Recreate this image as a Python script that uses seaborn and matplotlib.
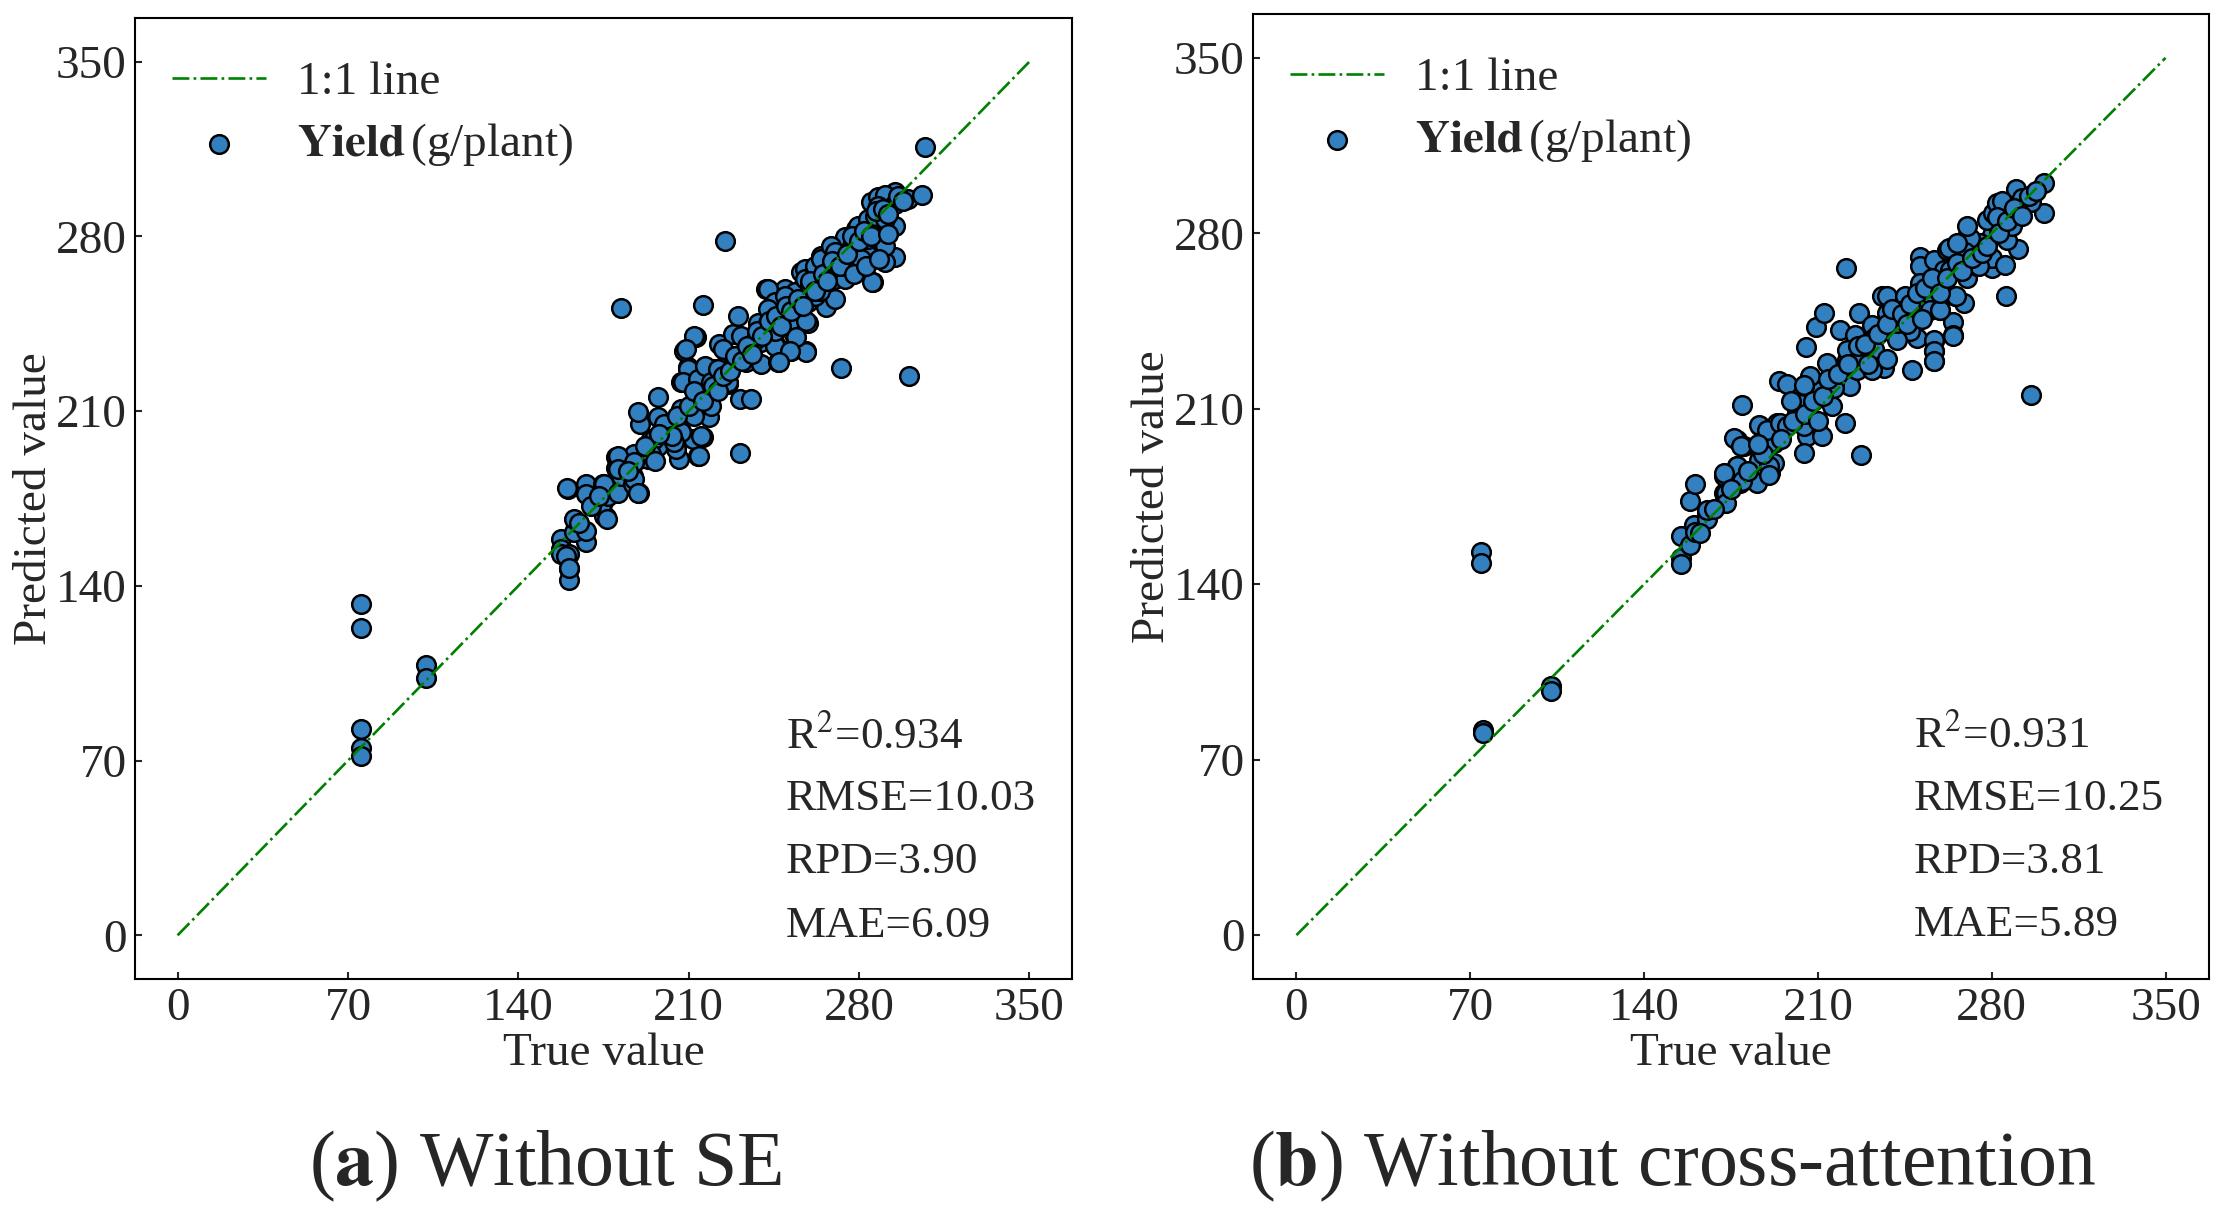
import matplotlib
matplotlib.use("Agg")
import matplotlib.pyplot as plt
import seaborn as sns

# (a) Without SE: true / predicted yield (g/plant)
true_a = [75.5, 75.5, 75.5, 75.5, 75.5, 102.2, 102.2,
          157.5, 157.5, 157.5, 160.7, 160.7, 167.8, 163.0, 160.7, 159.6, 161.0, 163.0, 167.8,
          160.5, 167.8, 167.8, 174.6, 174.6, 176.0, 175.3, 173.9, 176.7, 175.3, 160.2, 176.4,
          180.8, 180.1, 180.1, 182.2, 187.0, 189.7, 187.0, 189.7, 187.7, 193.2, 194.6, 197.3,
          190.0, 189.0, 197.3, 197.3, 180.8, 180.8, 187.7, 187.7, 189.0, 195.9, 194.6, 182.2,
          201.4, 206.9, 206.2, 213.7, 215.8, 211.7, 204.9, 206.9, 206.9, 213.1, 213.1, 209.6,
          208.2, 213.1, 218.5, 218.5, 219.9, 212.3, 208.9, 209.6, 207.5, 213.7, 213.7, 219.2,
          212.3, 206.9, 215.1, 204.1, 214.4, 216.5, 219.2, 215.8,
          222.6, 224.7, 226.1, 228.1, 230.9, 235.7, 230.9, 233.6, 239.8, 239.8, 225.0, 224.0,
          228.8, 226.1, 222.0, 231.6, 230.2, 237.8, 238.4,
          245.3, 246.7, 253.5, 258.3, 252.1, 245.3, 241.9, 245.3, 245.3, 252.1, 245.3, 249.4,
          249.4, 253.5, 253.5, 258.3, 256.3, 256.3, 259.0, 259.0, 242.6, 245.3, 250.8, 254.9,
          251.5, 258.3, 242.6, 242.6, 245.3, 254.2, 251.5, 247.3, 253.5, 249.4, 257.6, 257.6,
          261.7, 264.5, 270.0, 266.5, 270.0, 274.1, 274.1, 278.9, 279.6, 272.7, 261.7, 264.2,
          267.0, 274.1, 268.6, 270.0, 274.1, 279.6, 276.9, 279.6, 261.7, 270.0, 264.0, 260.0,
          283.7, 289.2, 289.2, 283.7, 285.0, 287.8, 294.7, 300.2, 305.9, 307.0, 294.7, 294.7,
          290.6, 285.8, 300.4, 290.6, 286.5, 290.6, 283.7, 290.6, 280.9, 285.2, 294.7, 287.8,
          200.0, 203.0, 205.0, 210.0, 212.0, 216.0, 220.0, 222.0, 224.0, 227.0, 229.0, 232.0,
          234.0, 236.0, 238.0, 240.0, 243.0, 246.0, 248.0, 250.0, 252.0, 255.0, 257.0, 260.0,
          262.0, 265.0, 267.0, 269.0, 272.0, 275.0, 277.0, 280.0, 282.0, 285.0, 287.0, 290.0,
          292.0, 296.0, 298.0, 278.0, 283.0, 288.0, 292.0, 185.0, 192.0, 198.0, 196.0, 170.0,
          173.0, 165.0]
pred_a = [132.9, 123.3, 82.6, 75.2, 71.9, 108.3, 102.9,
          158.7, 154.7, 152.7, 146.7, 142.3, 157.4, 161.4, 152.7, 152.0, 147.0, 166.7, 162.0,
          179.0, 180.8, 176.8, 180.8, 173.4, 167.4, 168.0, 172.0, 176.1, 180.8, 179.4, 166.7,
          177.4, 191.5, 187.4, 184.1, 184.1, 177.4, 180.8, 190.8, 192.8, 190.8, 198.8, 196.1,
          204.8, 209.5, 215.5, 207.5, 192.1, 186.8, 189.5, 182.8, 177.4, 198.8, 192.8, 251.3,
          201.5, 202.1, 190.8, 192.1, 199.5, 198.8, 194.8, 210.8, 221.5, 216.2, 222.8, 227.5,
          234.2, 239.6, 207.5, 212.8, 226.9, 240.2, 234.9, 226.9, 221.5, 222.8, 216.2, 212.2,
          208.1, 201.5, 200.1, 197.5, 192.1, 228.2, 221.5, 252.5,
          236.9, 228.2, 220.8, 240.9, 214.8, 214.8, 193.2, 229.5, 228.8, 237.5, 278.0, 234.9,
          229.5, 221.5, 226.9, 240.2, 248.2, 238.9, 245.5,
          236.9, 229.5, 240.2, 234.2, 234.2, 241.6, 258.9, 252.2, 244.2, 234.9, 236.2, 258.9,
          250.9, 253.6, 240.2, 233.5, 265.6, 258.9, 253.6, 245.5, 258.9, 253.6, 250.9, 249.6,
          246.2, 246.2, 250.9, 245.5, 242.2, 239.6, 234.2, 229.5, 257.6, 256.2, 266.9, 262.9,
          266.9, 272.3, 262.9, 251.6, 275.0, 270.9, 279.6, 282.9, 272.3, 227.3, 268.3, 270.9,
          264.2, 262.9, 276.3, 273.6, 268.3, 266.9, 276.3, 284.3, 256.2, 254.9, 258.0, 260.0,
          275.0, 277.6, 286.9, 286.9, 293.6, 295.6, 297.7, 295.0, 296.7, 316.0, 284.3, 271.6,
          269.6, 261.6, 223.9, 296.4, 288.3, 287.0, 279.0, 276.3, 270.9, 261.6, 293.0, 292.3,
          205.0, 200.0, 208.0, 212.0, 218.0, 214.0, 220.0, 218.0, 224.0, 226.0, 232.0, 230.0,
          236.0, 233.0, 242.0, 240.0, 246.0, 248.0, 244.0, 252.0, 250.0, 255.0, 252.0, 262.0,
          258.0, 265.0, 262.0, 270.0, 268.0, 273.0, 280.0, 278.0, 282.0, 280.0, 290.0, 291.0,
          289.0, 296.0, 294.0, 265.0, 268.0, 271.0, 281.0, 186.0, 196.0, 201.0, 190.0, 172.0,
          176.0, 165.0]

# (b) Without cross-attention
true_b = [74.2, 74.2, 75.0, 75.0, 102.5, 102.5,
          154.7, 154.7, 154.7, 158.4, 160.0, 160.5, 165.4, 165.4, 158.3, 160.7, 172.1, 172.1,
          172.1, 177.5, 178.8, 176.0, 184.8, 186.8, 190.9, 192.2, 185.5, 180.1, 177.5, 186.8,
          189.5, 193.6, 179.5, 194.2, 192.2, 172.8, 172.8, 165.4, 162.7, 176.4, 179.1, 190.4,
          186.2, 190.4, 190.2, 177.5, 172.1, 179.5, 186.2, 189.5, 194.9,
          205.4, 209.4, 212.6, 226.4, 219.0, 224.8, 221.3, 215.7, 223.1, 216.3, 215.7, 209.7,
          209.7, 204.3, 207.0, 213.7, 201.6, 202.9, 197.6, 205.6, 197.5, 221.0, 227.4, 204.3,
          204.3, 216.3, 211.7, 204.3, 203.0, 221.8, 221.8, 225.8, 227.1, 203.0,
          231.8, 235.8, 238.0, 245.2, 251.2, 251.2, 256.6, 247.9, 249.9, 247.2, 241.9, 241.9,
          237.8, 243.0, 236.5, 231.8, 232.4, 232.4, 256.6, 256.6, 256.6, 255.2, 251.2, 253.9,
          249.9, 255.2, 259.3, 259.9, 256.9, 256.9, 256.9,
          262.0, 264.6, 270.0, 274.0, 280.1, 280.1, 280.1, 278.0, 280.7, 282.1, 275.4, 270.0,
          260.6, 265.3, 268.7, 264.6, 264.6, 301.1, 301.1, 295.9, 289.9, 285.8, 295.9, 290.4,
          285.4, 274.7, 285.4, 284.0, 282.0, 287.4, 290.0, 286.1, 271.3, 269.3, 262.6, 263.3,
          259.9, 265.7, 259.3, 264.4, 288.0, 292.0,
          182.0, 188.0, 195.0, 200.0, 205.0, 208.0, 212.0, 214.0, 218.0, 222.0, 226.0, 229.0,
          234.0, 238.0, 240.0, 244.0, 247.0, 250.0, 253.0, 256.0, 259.0, 262.0, 266.0, 268.0,
          272.0, 276.0, 278.0, 283.0, 286.0, 289.0, 292.0, 295.0, 298.0, 270.0, 266.0, 246.0,
          252.0, 238.0, 230.0, 210.0, 199.0, 186.0, 168.0, 175.0]
pred_b = [152.8, 148.3, 82.0, 80.5, 99.5, 97.5,
          150.5, 147.9, 159.4, 155.8, 163.8, 161.0, 168.5, 166.0, 173.1, 179.8, 172.5, 176.5,
          183.1, 187.0, 180.4, 180.0, 183.7, 189.7, 184.4, 188.4, 180.4, 195.0, 197.7, 203.0,
          201.0, 204.3, 211.4, 220.9, 196.4, 176.4, 172.5, 169.8, 160.5, 198.4, 195.0, 196.4,
          189.7, 187.0, 183.7, 187.0, 184.4, 181.1, 203.7, 201.7, 204.3,
          234.5, 242.8, 248.4, 248.4, 241.5, 239.5, 266.1, 225.6, 218.9, 220.3, 211.0, 216.9,
          202.3, 218.9, 222.9, 228.3, 209.6, 204.3, 203.0, 199.0, 220.0, 204.3, 191.7, 192.4,
          219.6, 218.3, 199.0, 203.0, 209.6, 229.6, 233.6, 225.6, 230.9, 212.0,
          243.5, 254.8, 254.8, 254.8, 270.7, 267.0, 269.4, 225.6, 238.2, 240.9, 237.5, 244.2,
          248.2, 249.0, 226.3, 225.6, 238.2, 233.7, 236.9, 233.0, 228.9, 261.5, 260.1, 253.5,
          250.8, 249.5, 249.5, 259.5, 237.3, 233.0, 228.9,
          273.4, 266.8, 262.1, 266.8, 266.1, 270.0, 279.4, 285.4, 288.0, 292.0, 276.1, 278.7,
          265.4, 254.8, 252.2, 244.8, 239.5, 300.0, 288.0, 292.3, 297.6, 254.8, 215.6, 273.7,
          267.4, 266.8, 281.4, 292.7, 286.7, 285.4, 289.4, 277.4, 278.0, 272.7, 274.1, 265.4,
          259.5, 254.8, 249.5, 239.1, 283.0, 294.0,
          185.0, 192.0, 198.0, 205.0, 208.0, 213.0, 215.0, 222.0, 224.0, 228.0, 235.0, 236.0,
          240.0, 244.0, 250.0, 248.0, 252.0, 256.0, 258.0, 262.0, 256.0, 262.0, 268.0, 265.0,
          270.0, 272.0, 275.0, 280.0, 285.0, 290.0, 287.0, 295.0, 297.0, 283.0, 276.0, 244.0,
          246.0, 230.0, 228.0, 205.0, 213.0, 196.0, 170.0, 178.0]

stats_a = ["R$^{2}$=0.934", "RMSE=10.03", "RPD=3.90", "MAE=6.09"]
stats_b = ["R$^{2}$=0.931", "RMSE=10.25", "RPD=3.81", "MAE=5.89"]
captions = [r"($\mathbf{a}$) Without SE", r"($\mathbf{b}$) Without cross-attention"]
ticks = [0, 70, 140, 210, 280, 350]

sns.set_style("white")
plt.rcParams["font.family"] = ["Liberation Serif", "DejaVu Serif"]
plt.rcParams["mathtext.fontset"] = "stix"

W, H = 2219, 1211
fig = plt.figure(figsize=(W / 100, H / 100), dpi=100)
ax1 = fig.add_axes([135 / W, 1 - 979 / H, (1072 - 135) / W, (979 - 18) / H])
ax2 = fig.add_axes([1253 / W, 1 - 979 / H, (2209 - 1253) / W, (979 - 14) / H])

fs = 34
for ax, tx, py, stats, sx in [(ax1, true_a, pred_a, stats_a, 250.0),
                              (ax2, true_b, pred_b, stats_b, 248.5)]:
    ax.plot([0, 350], [0, 350], linestyle="-.", color="green", linewidth=1.9, label="1:1 line", zorder=3)
    sns.scatterplot(x=tx, y=py, ax=ax, s=180, color="#3380c0", edgecolor="black",
                    linewidth=1.8, label=r"$\mathbf{Yield}\,$(g/plant)", zorder=2)
    ax.set_xlim(-17.5, 367.5)
    ax.set_ylim(-17.5, 367.5)
    ax.set_xticks(ticks)
    ax.set_yticks(ticks)
    ax.tick_params(direction="in", length=5, width=1.5, labelsize=fs, pad=6,
                   left=True, bottom=True)
    for sp in ax.spines.values():
        sp.set_linewidth(1.5)
        sp.set_color("black")
    ax.set_xlabel("True value", fontsize=fs, labelpad=2)
    ax.set_ylabel("Predicted value", fontsize=fs, labelpad=0)
    ax.legend(loc="upper left", bbox_to_anchor=(-0.007, 1.0), frameon=False, fontsize=fs,
              handlelength=2.0, handletextpad=0.65, labelspacing=0.35, borderaxespad=0.52)
    for i, s in enumerate(stats):
        ax.text(sx, 79.8 - i * 25.3, s, fontsize=32.5, va="center", ha="left")

fig.text(545 / W, 1 - 1166 / H, captions[0], fontsize=56, ha="center", va="center")
fig.text(1673 / W, 1 - 1166 / H, captions[1], fontsize=56, ha="center", va="center")

fig.savefig("out.png", dpi=100)
